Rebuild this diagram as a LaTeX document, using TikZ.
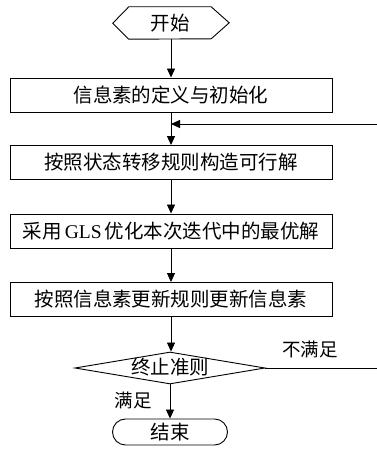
\documentclass[tikz,border=0pt]{standalone}
\usepackage{fontspec}
\setmainfont{Liberation Serif}
\newfontfamily\cjk{Noto Sans CJK SC}
\usetikzlibrary{arrows.meta,shapes.geometric,shapes.misc}
\begin{document}
\begin{tikzpicture}[x=1pt,y=1pt,
  every node/.style={font=\cjk\fontsize{19.5}{21}\selectfont},
  procbox/.style={draw,line width=0.9pt,minimum width=322pt,minimum height=34pt,inner sep=0pt},
  arr/.style={line width=0.9pt,-{Triangle[length=9pt,width=8pt]}},
  ln/.style={line width=0.9pt},
  lbl/.style={font=\cjk\fontsize{18.5}{20}\selectfont,inner sep=0pt}]
\useasboundingbox (0,0) rectangle (377,453);
% start hexagon
\node[minimum width=82pt,minimum height=32pt,inner sep=0pt] (start) at (170,430) {开始};
\draw[ln] (start.north west) -- (start.north east) -- ++(18,-16) -- ++(-18,-16) -- (start.south west) -- ++(-16,16) -- cycle;
% boxes
\node[procbox] (b1) at (171,358) {信息素的定义与初始化};
\node[procbox] (b2) at (171,290.5) {按照状态转移规则构造可行解};
\node[procbox] (b3) at (171,222) {{\cjk 采用}\,{\rmfamily GLS}\,{\cjk 优化本次迭代中的最优解}};
\node[procbox] (b4) at (171,153.5) {按照信息素更新规则更新信息素};
\node[draw,line width=0.9pt,diamond,aspect=5.9,minimum width=190pt,minimum height=32pt,inner sep=0pt] (d) at (170,85) {};
\node[inner sep=0pt] (dtext) at (170,85.5) {终止准则};
\node[draw,line width=0.9pt,rounded rectangle,minimum width=115pt,minimum height=26pt,inner sep=0pt] (end) at (170,21) {结束};
% connectors
\coordinate (fbR) at (377,329);
\coordinate (fbL) at (171,329);
\coordinate (exitR) at (377,85);
\draw[arr] (start.south -| b1.north) -- (b1.north);
\draw[arr] (b1.south) -- (b2.north);
\draw[arr] (fbR) -- (fbL);
\draw[arr] (b2.south) -- (b3.north);
\draw[arr] (b3.south) -- (b4.north);
\draw[arr] (b4.south) -- (b4.south |- d.north);
\draw[arr] (d.south) -- (end.north);
\draw[ln] (d.east) -- (exitR);
\node[lbl] (nsat) at (310,104) {不满足};
\node[lbl] (sat) at (133,53) {满足};
\end{tikzpicture}
\end{document}
